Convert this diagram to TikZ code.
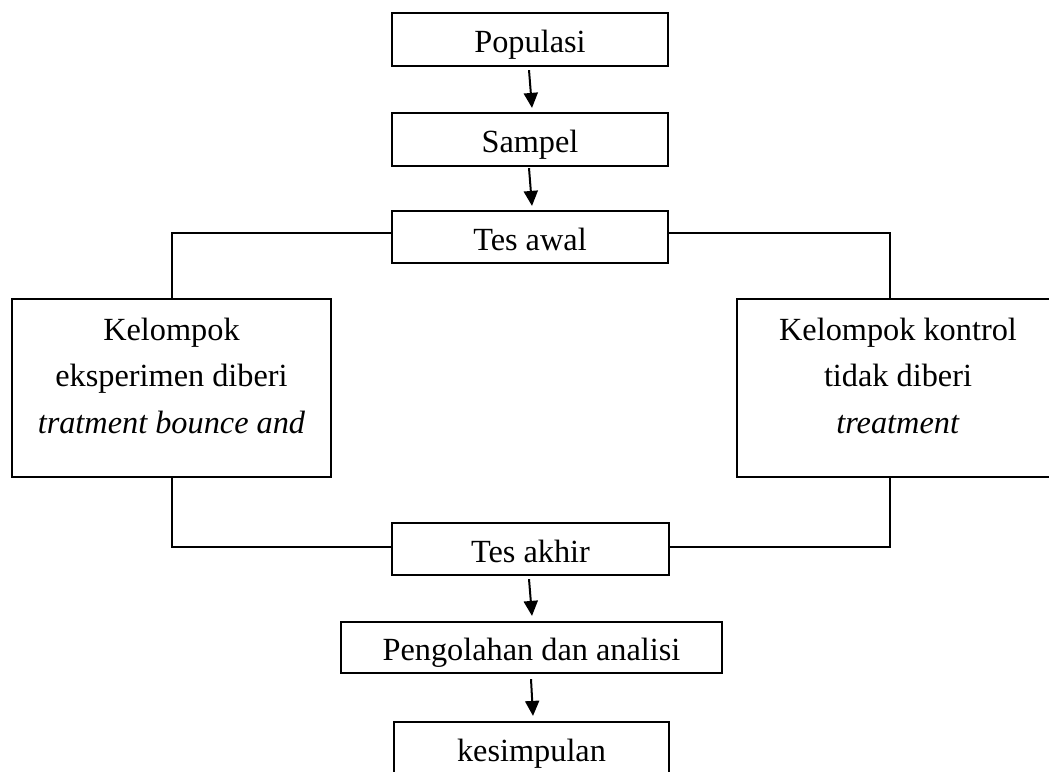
\documentclass[tikz,border=0pt]{standalone}
\usepackage{fontspec}
\setmainfont{Liberation Serif}
\usetikzlibrary{arrows.meta}
\newcommand\diagfont{\fontsize{32.3}{46.7}\selectfont}
\begin{document}
\begin{tikzpicture}[x=1pt,y=-1pt,
  box/.style={draw, line width=2.2pt, inner sep=0pt, font=\diagfont, text height=26pt, text depth=0pt},
  bigbox/.style={draw, line width=2.2pt, inner sep=0pt, font=\diagfont, text height=40pt, text depth=136pt},
  conn/.style={line width=2pt},
  arr/.style={line width=2pt, -{Triangle[width=14pt,length=15pt]}}]
\path[fill=white, use as bounding box] (0,0) rectangle (1049,771);
% boxes
\node[box, minimum width=276pt, minimum height=53pt] (pop) at (530,39.5) {Populasi};
\node[box, minimum width=276pt, minimum height=53pt] (samp) at (530,139.5) {Sampel};
\node[box, minimum width=276pt, minimum height=52pt] (awal) at (530,237) {Tes awal};
\node[bigbox, minimum width=319pt, minimum height=178pt] (left) at (171.5,388)
  {\begin{tabular}[t]{@{}c@{}}Kelompok\\eksperimen diberi\\\textit{tratment bounce and}\end{tabular}};
\node[bigbox, minimum width=322pt, minimum height=178pt] (right) at (898,388)
  {\begin{tabular}[t]{@{}c@{}}Kelompok kontrol\\tidak diberi\\\textit{treatment}\end{tabular}};
\node[box, minimum width=277pt, minimum height=52pt] (akhir) at (530.5,549) {Tes akhir};
\node[box, minimum width=381pt, minimum height=51pt] (olah) at (531.5,647.5) {Pengolahan dan analisi};
\node[box, minimum width=275pt, minimum height=52pt] (kes) at (531.5,748) {kesimpulan};
% connectors
\draw[conn] ([yshift=4pt]awal.west) -| (left.north);
\draw[conn] ([yshift=4pt]awal.east) -| ([xshift=-8pt]right.north);
\draw[conn] (left.south) |- ([yshift=2pt]akhir.west);
\draw[conn] ([xshift=-8pt]right.south) |- ([yshift=2pt]akhir.east);
% arrows
\draw[arr] ([xshift=-1pt,yshift=-3pt]pop.south) -- ([xshift=2pt,yshift=4pt]samp.north);
\draw[arr] ([xshift=-1pt,yshift=-1pt]samp.south) -- ([xshift=2pt,yshift=4pt]awal.north);
\draw[arr] ([xshift=-1.5pt,yshift=-3pt]akhir.south) -- ([xshift=0.5pt,yshift=5pt]olah.north);
\draw[arr] ([xshift=-0.5pt,yshift=-5pt]olah.south) -- ([xshift=1.5pt,yshift=5pt]kes.north);
\end{tikzpicture}
\end{document}
